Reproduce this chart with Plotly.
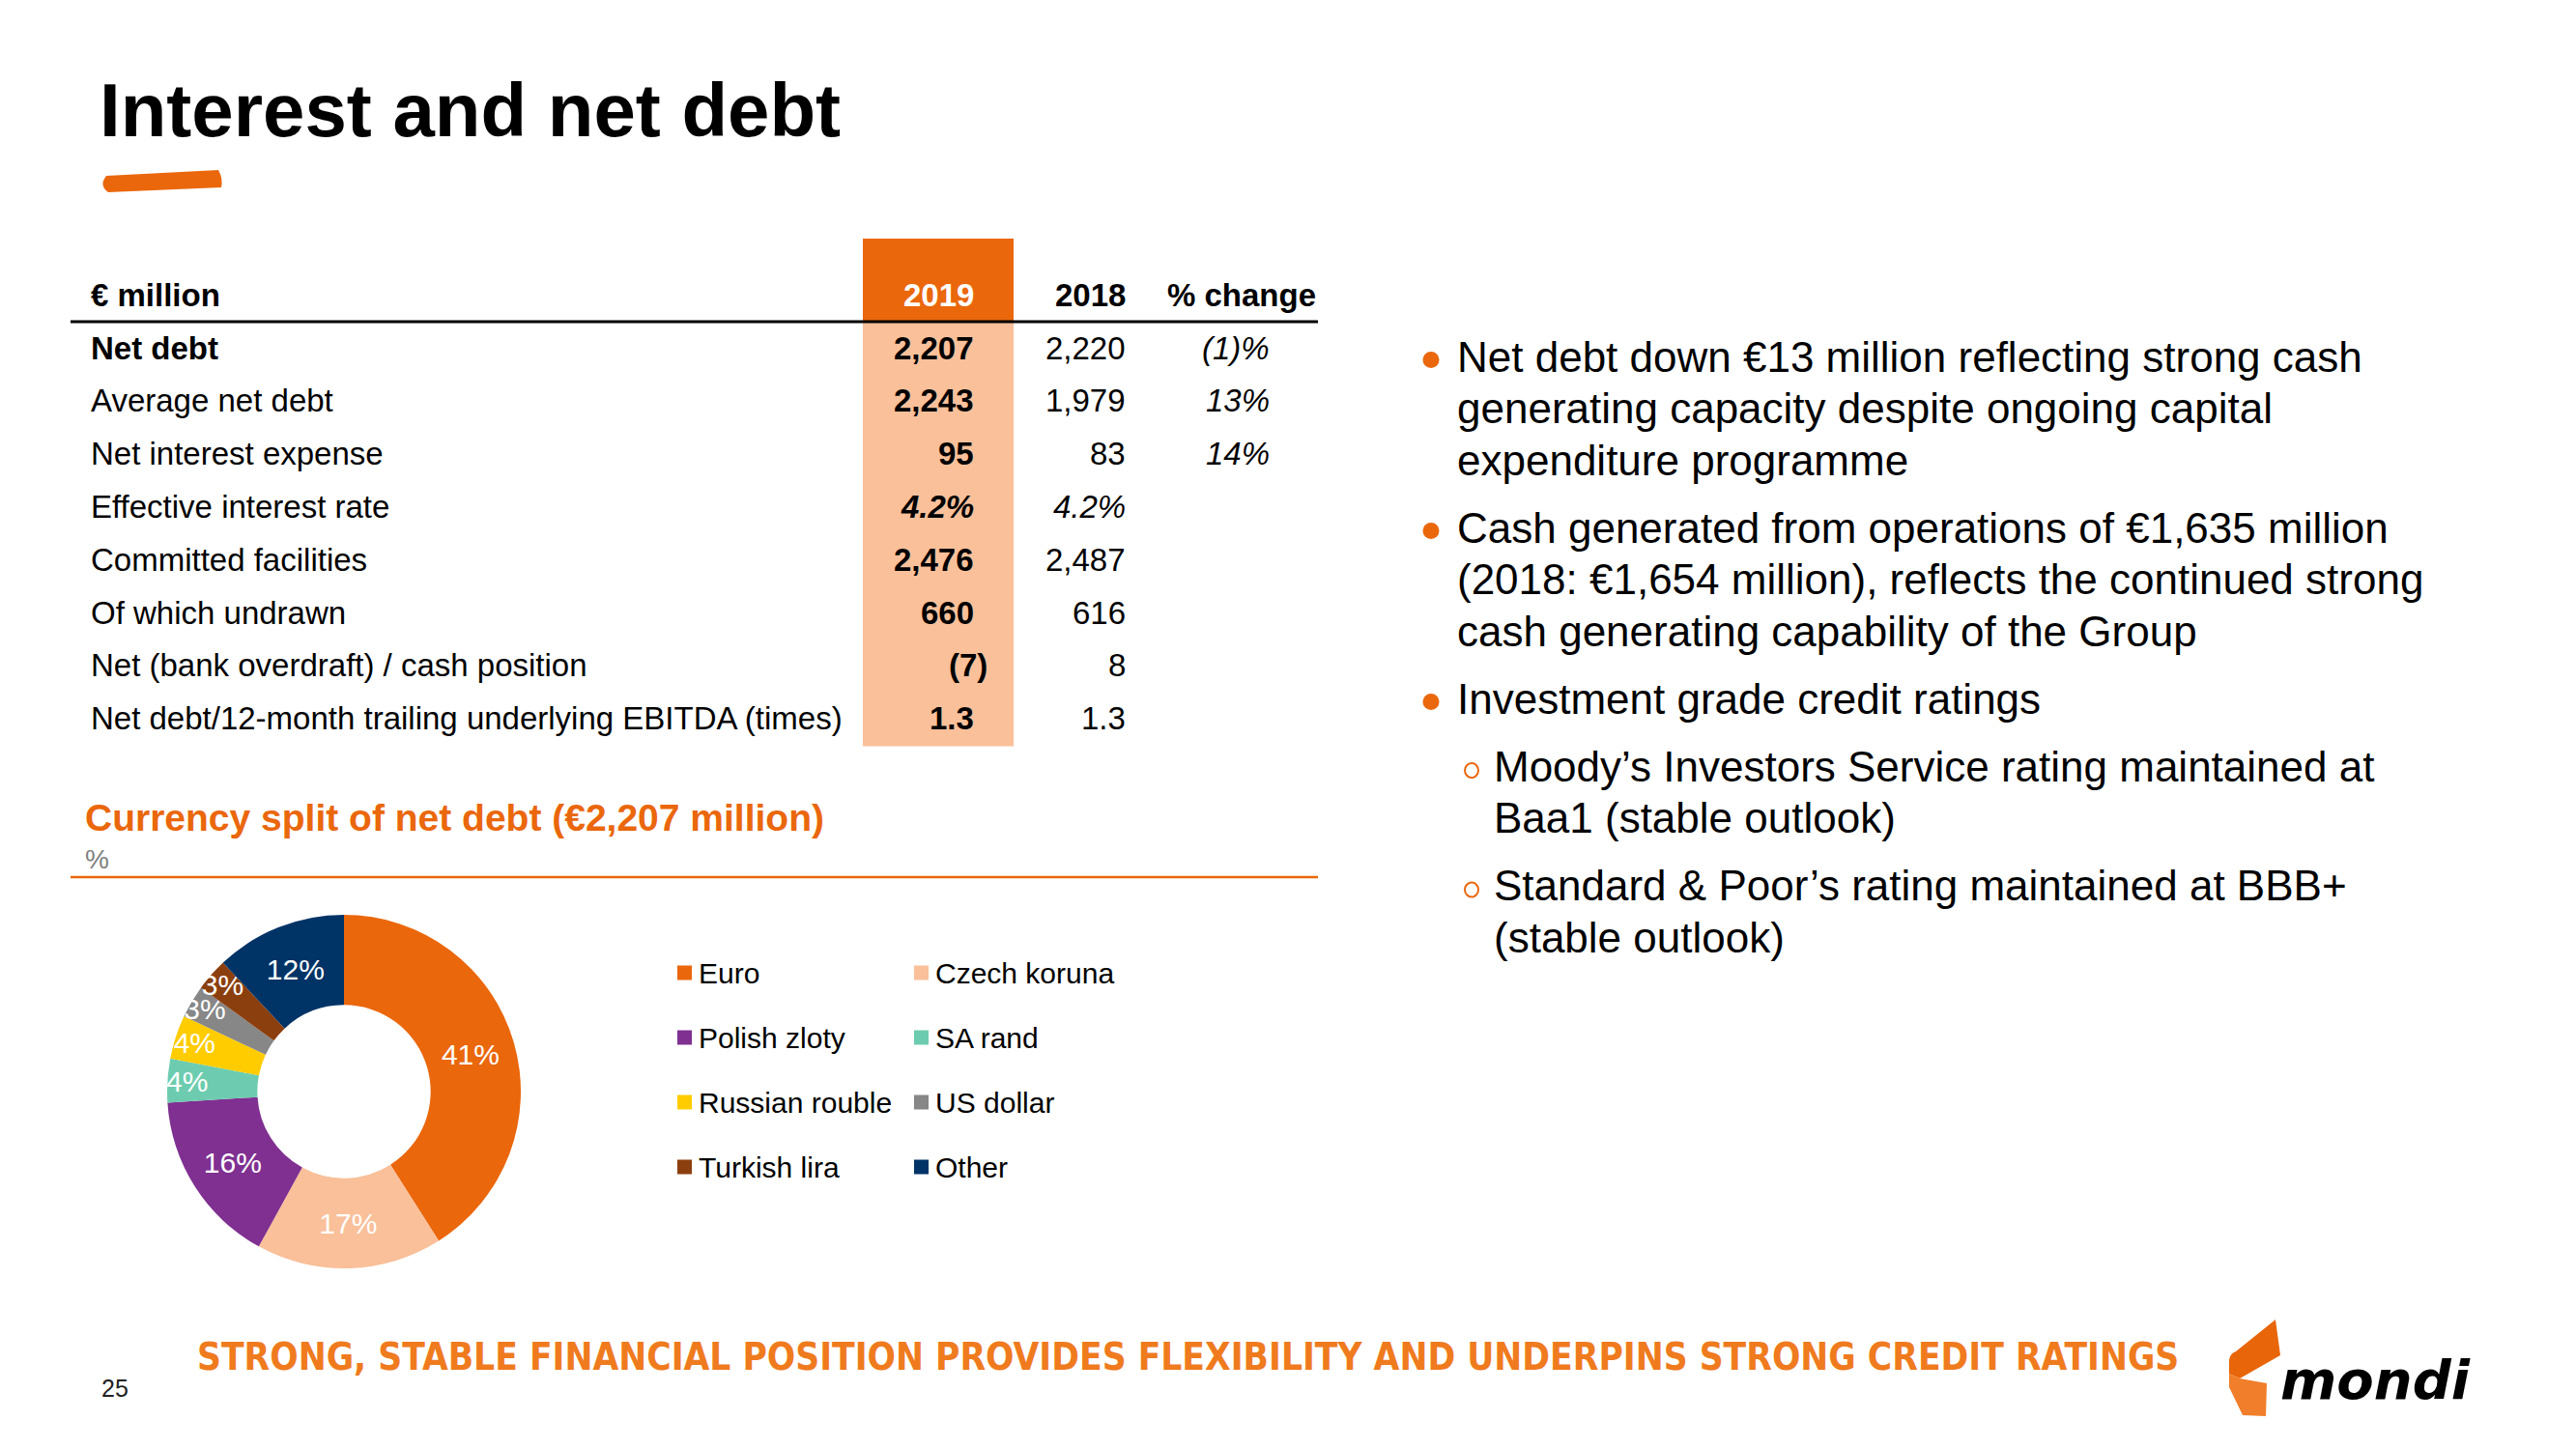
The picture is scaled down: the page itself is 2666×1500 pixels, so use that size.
import plotly.graph_objects as go

W, H = 2666, 1500
FONT = "Liberation Sans, Arial, Helvetica, sans-serif"
ORANGE = "#EA670C"
PEACH = "#F9C09A"
BANNER_ORANGE = "#EF7B1E"

# ---------------- data ----------------
title_text = "Interest and net debt"

table_header = ["€ million", "2019", "2018", "% change"]
row_labels = [
    "Net debt",
    "Average net debt",
    "Net interest expense",
    "Effective interest rate",
    "Committed facilities",
    "Of which undrawn",
    "Net (bank overdraft) / cash position",
    "Net debt/12-month trailing underlying EBITDA (times)",
]
values_2019 = [2207, 2243, 95, 4.2, 2476, 660, -7, 1.3]
values_2018 = [2220, 1979, 83, 4.2, 2487, 616, 8, 1.3]
pct_change = [-1, 13, 14, None, None, None, None, None]
row_kind = ["amount", "amount", "amount", "rate", "amount", "amount", "amount", "times"]

chart_title = "Currency split of net debt (€2,207 million)"
chart_unit = "%"
currencies = ["Euro", "Czech koruna", "Polish zloty", "SA rand",
              "Russian rouble", "US dollar", "Turkish lira", "Other"]
currency_share = [41, 17, 16, 4, 4, 3, 3, 12]
currency_colors = ["#EA670C", "#F9C09A", "#7F3091", "#6DCCAF",
                   "#FFCC00", "#878787", "#8C3F0E", "#003366"]

bullets = [
    (0, ["Net debt down €13 million reflecting strong cash",
         "generating capacity despite ongoing capital",
         "expenditure programme"]),
    (0, ["Cash generated from operations of €1,635 million",
         "(2018: €1,654 million), reflects the continued strong",
         "cash generating capability of the Group"]),
    (0, ["Investment grade credit ratings"]),
    (1, ["Moody’s Investors Service rating maintained at",
         "Baa1 (stable outlook)"]),
    (1, ["Standard & Poor’s rating maintained at BBB+",
         "(stable outlook)"]),
]

banner_text = "STRONG, STABLE FINANCIAL POSITION PROVIDES FLEXIBILITY AND UNDERPINS STRONG CREDIT RATINGS"
page_number = "25"
logo_text = "mondi"


# ---------------- helpers ----------------
def fmt_value(v, kind):
    if kind == "rate":
        return f"{v:.1f}%"
    if kind == "times":
        return f"{v:.1f}"
    s = f"{abs(v):,.0f}"
    return f"({s})" if v < 0 else s


def fmt_pct(v):
    if v is None:
        return ""
    return f"({abs(v)})%" if v < 0 else f"{v}%"


annotations = []
shapes = []


def txt(x, y, text, size, color="#000000", xanchor="left", family=FONT,
        bold=False, italic=False, yanchor="middle"):
    if bold:
        text = f"<b>{text}</b>"
    if italic:
        text = f"<i>{text}</i>"
    annotations.append(dict(
        x=x, y=y, xref="x", yref="y", text=text, showarrow=False,
        xanchor=xanchor, yanchor=yanchor,
        font=dict(size=size, color=color, family=family),
        borderpad=0, borderwidth=0,
    ))


fig = go.Figure()

# ---------------- title ----------------
txt(103, 114, title_text, 78, bold=True)
shapes.append(dict(type="path", xref="x", yref="y",
                   path="M 110,182 L 226,176 Q 231,185 229,194 L 112,199 Q 102,192 110,182 Z",
                   fillcolor=ORANGE, line=dict(width=0)))

# ---------------- table ----------------
col_2019 = (893, 1049)
header_y = 305
line_y = 333
row_y0 = 360
row_dy = 54.8
table_x0, table_x1 = 73, 1364
label_x = 94
r2019, r2018, rpct = 1008, 1165, 1314
tsize = 33

shapes.append(dict(type="rect", xref="x", yref="y", x0=col_2019[0], x1=col_2019[1],
                   y0=247, y1=line_y, fillcolor=ORANGE, line=dict(width=0), layer="below"))
shapes.append(dict(type="rect", xref="x", yref="y", x0=col_2019[0], x1=col_2019[1],
                   y0=line_y, y1=row_y0 + (len(row_labels) - 1) * row_dy + 29,
                   fillcolor=PEACH, line=dict(width=0), layer="below"))
shapes.append(dict(type="line", xref="x", yref="y", x0=table_x0, x1=table_x1,
                   y0=line_y, y1=line_y, line=dict(color="#000000", width=3)))

txt(label_x, header_y, table_header[0], tsize, bold=True)
txt(r2019, header_y, table_header[1], tsize, color="#FFFFFF", xanchor="right", bold=True)
txt(r2018, header_y, table_header[2], tsize, xanchor="right", bold=True)
txt(1362, header_y, table_header[3], tsize, xanchor="right", bold=True)

for i, lab in enumerate(row_labels):
    y = row_y0 + i * row_dy
    txt(label_x, y, lab, tsize, bold=(i == 0))
    kind = row_kind[i]
    v19 = values_2019[i]
    hang = 14 if (kind == "amount" and v19 < 0) else 0
    txt(r2019 + hang, y, fmt_value(v19, kind), tsize, xanchor="right",
        bold=True, italic=(kind == "rate"))
    v18 = values_2018[i]
    hang = 14 if (kind == "amount" and v18 < 0) else 0
    txt(r2018 + hang, y, fmt_value(v18, kind), tsize, xanchor="right",
        italic=(kind == "rate"))
    p = fmt_pct(pct_change[i])
    if p:
        txt(rpct, y, p, tsize, xanchor="right", italic=True)

# ---------------- donut chart ----------------
txt(88, 846, chart_title, 39, color=ORANGE, bold=True)
txt(88, 889, chart_unit, 28, color="#7F7F7F")
shapes.append(dict(type="line", xref="x", yref="y", x0=table_x0, x1=table_x1,
                   y0=908, y1=908, line=dict(color=ORANGE, width=2.5)))

cx, cy, R = 356, 1130, 183
fig.add_trace(go.Pie(
    labels=currencies, values=currency_share,
    marker=dict(colors=currency_colors, line=dict(width=0)),
    hole=0.49, sort=False, direction="clockwise", rotation=0,
    texttemplate="%{value}%", textposition="inside",
    insidetextorientation="horizontal",
    textfont=dict(color="#FFFFFF", size=30, family=FONT),
    domain=dict(x=[(cx - R) / W, (cx + R) / W], y=[(H - cy - R) / H, (H - cy + R) / H]),
    showlegend=False, hoverinfo="label+percent",
))

# legend (2 columns, row-major)
leg_x = [708.5, 953.5]
leg_tx = [723, 968]
leg_y0, leg_dy = 1007, 67
lx, ly = [], []
for i, name in enumerate(currencies):
    c, r = i % 2, i // 2
    lx.append(leg_x[c])
    ly.append(leg_y0 + r * leg_dy)
    txt(leg_tx[c], leg_y0 + r * leg_dy, name, 30)
fig.add_trace(go.Scatter(x=lx, y=ly, mode="markers",
                         marker=dict(symbol="square", size=15, color=currency_colors, line=dict(width=0)),
                         showlegend=False, hoverinfo="skip"))

# ---------------- right hand bullets ----------------
bx_dot, bx_ring = 1481, 1523
tx = [1508, 1546]
y = 369
line_gap, bullet_gap = 53.5, 70
for level, lines in bullets:
    if level == 0:
        shapes.append(dict(type="circle", xref="x", yref="y", x0=bx_dot - 8.5, x1=bx_dot + 8.5,
                           y0=y - 5, y1=y + 12, fillcolor=ORANGE, line=dict(width=0)))
    else:
        shapes.append(dict(type="circle", xref="x", yref="y", x0=bx_ring - 7, x1=bx_ring + 7,
                           y0=y - 3, y1=y + 12, fillcolor="rgba(0,0,0,0)",
                           line=dict(color=ORANGE, width=2)))
    for j, line in enumerate(lines):
        txt(tx[level], y + j * line_gap, line, 44)
    y += (len(lines) - 1) * line_gap + bullet_gap

# ---------------- footer ----------------
txt(1229, 1404, banner_text, 38.5, color=BANNER_ORANGE, xanchor="center",
    family="Liberation Sans Narrow, Arial Narrow, DejaVu Sans Condensed, Liberation Sans, sans-serif",
    bold=True)
txt(105, 1437, page_number, 25, color="#222222")

# logo
shapes.append(dict(type="path", xref="x", yref="y",
                   path="M 2355,1366 L 2360,1403 L 2318,1427 L 2307,1422 L 2307,1408 Q 2308,1401 2314,1399 Z",
                   fillcolor="#E8650A", line=dict(width=0)))
shapes.append(dict(type="path", xref="x", yref="y",
                   path="M 2307,1422 L 2318,1427 L 2346,1432 L 2345,1466 L 2321,1465 L 2307,1436 Z",
                   fillcolor="#F07E2A", line=dict(width=0)))
txt(2458, 1428, f"<i>{logo_text}</i>", 56, color="#000000", xanchor="center",
    family="DejaVu Sans, Liberation Sans, sans-serif", bold=True)

fig.update_layout(
    width=W, height=H,
    margin=dict(l=0, r=0, t=0, b=0),
    paper_bgcolor="#FFFFFF", plot_bgcolor="#FFFFFF",
    xaxis=dict(range=[0, W], visible=False, fixedrange=True),
    yaxis=dict(range=[H, 0], visible=False, fixedrange=True),
    annotations=annotations, shapes=shapes,
    uniformtext=dict(minsize=30, mode="show"),
    showlegend=False,
    font=dict(family=FONT),
)

fig.write_html("out.html", config={"displayModeBar": False},
               post_script="document.body.style.margin='0';document.body.style.overflow='hidden';")
